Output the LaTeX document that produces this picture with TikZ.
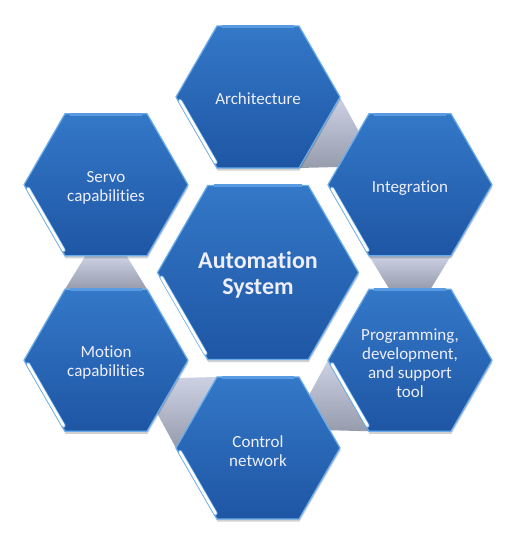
\documentclass[tikz,border=0pt]{standalone}
\usepackage{fontspec}
\setmainfont[Ligatures=NoCommon]{Carlito}
\usetikzlibrary{shapes.geometric,calc,shadows}
\pgfdeclarelayer{back}
\pgfdeclarelayer{links}
\pgfsetlayers{back,links,main}

\definecolor{hexTop}{RGB}{52,120,200}
\definecolor{hexBot}{RGB}{30,86,164}
\definecolor{hexEdge}{RGB}{105,172,235}
\definecolor{hexBevel}{RGB}{88,155,226}
\definecolor{txt}{RGB}{238,238,252}
\definecolor{linkTop}{RGB}{204,210,228}
\definecolor{linkBot}{RGB}{150,156,172}

\tikzset{
 hexbase/.style={regular polygon, regular polygon sides=6, inner sep=0pt, outer sep=0pt,
   top color=hexTop, bottom color=hexBot, draw=hexEdge, line width=1.2bp,
   general shadow={fill=black, opacity=0.18, shadow xshift=0.5bp, shadow yshift=-2.5bp}},
 hexsmall/.style={hexbase, minimum size=164bp},
 hexbig/.style={hexbase, minimum size=201bp},
 smalltext/.style={text=txt, align=center, inner sep=0pt, font=\fontsize{17bp}{18.7bp}\selectfont},
 bigtext/.style={text=txt, align=center, inner sep=0pt, font=\fontsize{24bp}{26.5bp}\selectfont\bfseries},
 hexlinkstyle/.style={top color=linkTop, bottom color=linkBot, draw=none},
 glossline/.style={white, line width=2.8bp, line cap=round},
 glossedge/.style={hexEdge, line width=4.2bp, line cap=round},
 bevelline/.style={hexBevel, line width=3bp},
}

\newcommand\hexlink[3]{%
 \path[hexlinkstyle] ($(#1)+({#3+30}:82)$) -- ($(#1)+({#3-30}:82)$)
   -- ($(#2)+({#3+196.1}:73.9)$) -- ($(#2)+({#3+163.9}:73.9)$) -- cycle;}
\newcommand\hexgloss[2]{%
 \draw[bevelline] ($(#1)+(63:{#2-3})$) -- ($(#1)+(117:{#2-3})$);
 \draw[glossedge] ($(#1)+(183:{#2-4})$) -- ($(#1)+(237:{#2-4})$);
 \draw[glossline] ($(#1)+(183:{#2-4})$) -- ($(#1)+(237:{#2-4})$);}

\begin{document}
\begin{tikzpicture}[x=1bp,y=1bp]
\useasboundingbox (0,0) rectangle (526,544);
\begin{pgfonlayer}{back}
\fill[white] (0,0) rectangle (526,544);
\end{pgfonlayer}
\coordinate (O) at (258,271.5);
\node[hexbig] (auto) at (O) {};
\node[hexsmall] (arch) at ($(O)+(90:175.5)$) {};
\node[hexsmall] (integ) at ($(O)+(30:175.5)$) {};
\node[hexsmall] (prog) at ($(O)+(-30:175.5)$) {};
\node[hexsmall] (ctrl) at ($(O)+(-90:175.5)$) {};
\node[hexsmall] (motion) at ($(O)+(-150:175.5)$) {};
\node[hexsmall] (servo) at ($(O)+(150:175.5)$) {};

\hexgloss{auto}{100.5}
\hexgloss{arch}{82}
\hexgloss{integ}{82}
\hexgloss{prog}{82}
\hexgloss{ctrl}{82}
\hexgloss{motion}{82}
\hexgloss{servo}{82}

\node[bigtext] (autoT) at ($(auto)+(0,-2.5)$) {Automation\\System};
\node[smalltext] (archT) at ($(arch)+(0,-2)$) {Architecture};
\node[smalltext] (integT) at ($(integ)+(0,-3)$) {Integration};
\node[smalltext] (progT) at ($(prog)+(0,-3)$) {Programming,\\development,\\and support\\tool};
\node[smalltext] (ctrlT) at ($(ctrl)+(0,-3)$) {Control\\network};
\node[smalltext] (motionT) at ($(motion)+(0,-2.5)$) {Motion\\capabilities};
\node[smalltext] (servoT) at ($(servo)+(0,-3)$) {Servo\\capabilities};

\begin{pgfonlayer}{links}
\hexlink{arch}{integ}{-30}
\hexlink{integ}{prog}{-90}
\hexlink{prog}{ctrl}{-150}
\hexlink{ctrl}{motion}{150}
\hexlink{motion}{servo}{90}
\end{pgfonlayer}
\end{tikzpicture}
\end{document}
